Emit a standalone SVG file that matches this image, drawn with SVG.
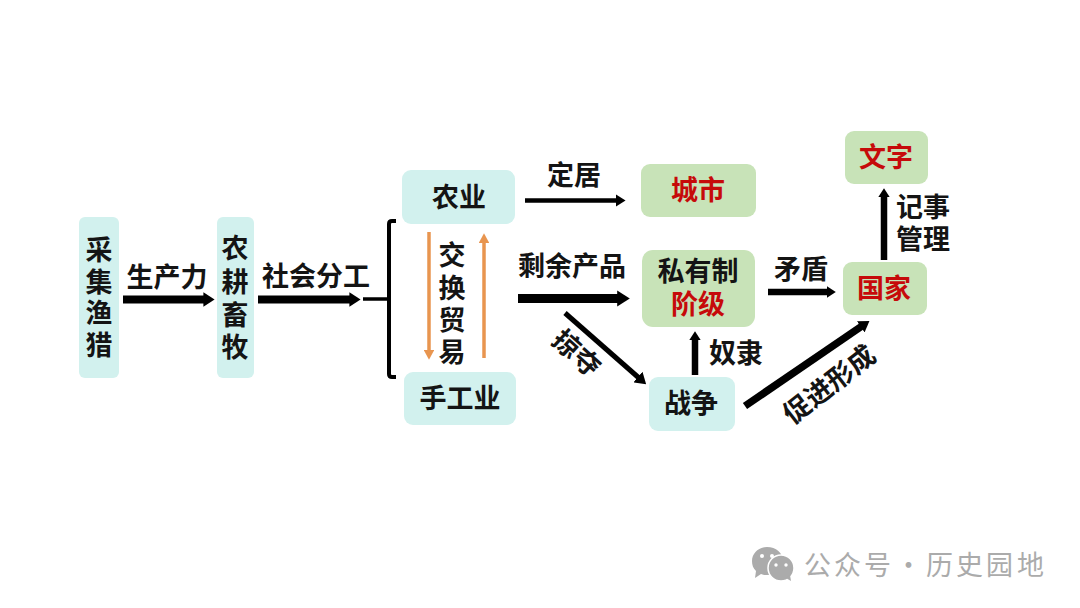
<svg xmlns="http://www.w3.org/2000/svg" width="1080" height="608" viewBox="0 0 1080 608">
<style>
text{font-family:"Noto Sans CJK SC","Noto Sans",sans-serif;font-weight:700;font-size:27px;fill:#141414;text-anchor:middle}
.red{fill:#c60a0a}
.teal{fill:#d2f1ee}
.green{fill:#c8e3b8}
.blk{stroke:#000;fill:none}
.org{stroke:#e8954f;stroke-width:3.5;fill:none}
.wm{font-weight:400;fill:#ababab;text-anchor:start;font-size:27px}
</style>
<defs>
<marker id="hb" markerUnits="strokeWidth" markerWidth="1.4" markerHeight="1.8" refX="0.2" refY="0.9" orient="auto"><path d="M0,0 L1.4,0.9 L0,1.8 Z" fill="#000"/></marker>
<marker id="ht" markerUnits="strokeWidth" markerWidth="2.2" markerHeight="2.8" refX="0.3" refY="1.4" orient="auto"><path d="M0,0 L2.2,1.4 L0,2.8 Z" fill="#000"/></marker>
<marker id="ho" markerUnits="strokeWidth" markerWidth="2.8" markerHeight="3" refX="0.3" refY="1.5" orient="auto"><path d="M0,0 L2.8,1.5 L0,3 Z" fill="#e8954f"/></marker>
</defs>
<rect width="1080" height="608" fill="#fff"/>
<g id="connectors">
<line class="blk" stroke-width="8" marker-end="url(#hb)" x1="123" y1="299.5" x2="205" y2="299.5"/>
<line class="blk" stroke-width="8" marker-end="url(#hb)" x1="258" y1="299.5" x2="351" y2="299.5"/>
<line class="blk" stroke-width="3.5" x1="363" y1="299" x2="388" y2="299"/>
<path class="blk" stroke-width="4" d="M396,221 H392 Q389,221 389,224 V374 Q389,377 392,377 H396"/>
<line class="org" marker-end="url(#ho)" x1="429" y1="232" x2="429" y2="351"/>
<line class="org" marker-end="url(#ho)" x1="484" y1="358" x2="484" y2="242"/>
<line class="blk" stroke-width="4.5" marker-end="url(#ht)" x1="525" y1="200.5" x2="617" y2="200.5"/>
<line class="blk" stroke-width="9" marker-end="url(#hb)" x1="518" y1="298.5" x2="619" y2="298.5"/>
<line class="blk" stroke-width="5" marker-end="url(#ht)" x1="565" y1="313" x2="639" y2="378"/>
<line class="blk" stroke-width="6.5" marker-end="url(#hb)" x1="768" y1="292" x2="828" y2="292"/>
<line class="blk" stroke-width="6.5" marker-end="url(#hb)" x1="695" y1="375" x2="695" y2="339"/>
<line class="blk" stroke-width="7.5" marker-end="url(#hb)" x1="745" y1="406" x2="862" y2="326"/>
<line class="blk" stroke-width="6.5" marker-end="url(#hb)" x1="884" y1="260" x2="884" y2="196"/>
</g>
<g id="n-caiji"><rect class="teal" x="79" y="217" width="40" height="161" rx="6"/><text><tspan x="99" y="260">采</tspan><tspan x="99" y="292">集</tspan><tspan x="99" y="323">渔</tspan><tspan x="99" y="355">猎</tspan></text></g>
<g id="n-nonggeng"><rect class="teal" x="217" y="217" width="37" height="161" rx="6"/><text><tspan x="235" y="258">农</tspan><tspan x="235" y="292">耕</tspan><tspan x="235" y="325">畜</tspan><tspan x="235" y="357">牧</tspan></text></g>
<g id="n-nongye"><rect class="teal" x="402" y="170" width="113" height="54" rx="9"/><text x="459" y="207">农业</text></g>
<g id="n-shougongye"><rect class="teal" x="404" y="372" width="112" height="53" rx="9"/><text x="460" y="408">手工业</text></g>
<g id="n-chengshi"><rect class="green" x="641" y="164" width="115" height="53" rx="9"/><text class="red" x="698" y="200">城市</text></g>
<g id="n-siyouzhi"><rect class="green" x="642" y="250" width="113" height="77" rx="11"/><text x="698" y="281">私有制</text><text class="red" x="698" y="314">阶级</text></g>
<g id="n-wenzi"><rect class="green" x="845" y="131" width="83" height="53" rx="9"/><text class="red" x="886" y="167">文字</text></g>
<g id="n-guojia"><rect class="green" x="843" y="262" width="84" height="53" rx="9"/><text class="red" x="884" y="298">国家</text></g>
<g id="n-zhanzheng"><rect class="teal" x="649" y="377" width="86" height="54" rx="9"/><text x="691" y="413">战争</text></g>
<g id="labels">
<text x="167" y="287">生产力</text>
<text x="316" y="286">社会分工</text>
<text><tspan x="452" y="265">交</tspan><tspan x="452" y="298">换</tspan><tspan x="452" y="330">贸</tspan><tspan x="452" y="362">易</tspan></text>
<text x="574" y="185">定居</text>
<text x="572" y="276">剩余产品</text>
<text x="801" y="279">矛盾</text>
<text x="736" y="363">奴隶</text>
<text><tspan x="923" y="217">记事</tspan><tspan x="923" y="249">管理</tspan></text>
<text transform="translate(577,353) rotate(42)" y="10">掠夺</text>
<text transform="translate(829,384) rotate(-38)" y="10">促进形成</text>
</g>
<g id="watermark">
<path d="M767,547 C776,547 783,553 783,561 C783,569 776,575 767,575 C765,575 763,575 761,574 L755,578 L756,571 C753,568 752,565 752,561 C752,553 759,547 767,547 Z" fill="#ababab"/>
<circle cx="781" cy="568" r="13" fill="#ababab" stroke="#fff" stroke-width="1.5"/>
<path d="M786,578 L791,581 L790,575 Z" fill="#ababab"/>
<circle cx="762" cy="556" r="2" fill="#fff"/><circle cx="772" cy="556" r="2" fill="#fff"/>
<circle cx="776" cy="565" r="1.7" fill="#fff"/><circle cx="786" cy="565" r="1.7" fill="#fff"/>
<text class="wm" y="575"><tspan x="804">公</tspan><tspan x="834">众</tspan><tspan x="864">号</tspan><tspan x="895">·</tspan><tspan x="926">历</tspan><tspan x="956">史</tspan><tspan x="986">园</tspan><tspan x="1017">地</tspan></text>
</g>
</svg>
